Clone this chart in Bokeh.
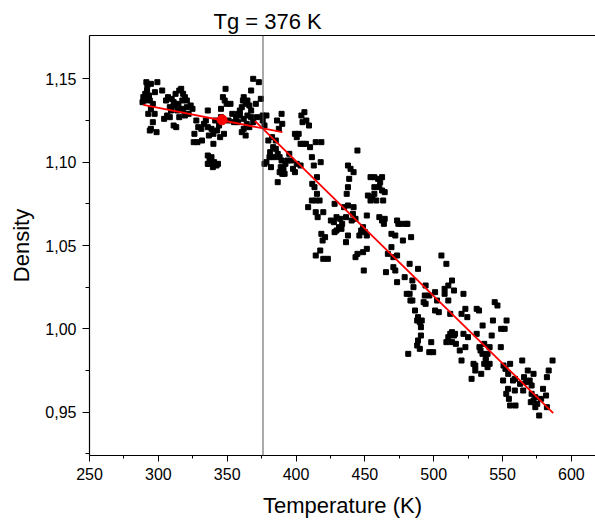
from bokeh.plotting import figure
from bokeh.models import (Range1d, FixedTicker, CustomJSTickFormatter, Span,
                          LinearAxis, Title)
from bokeh.embed import file_html
from bokeh.resources import INLINE

# ---- data ----
temperature = [
    291.3, 294.6, 299.3, 289.1, 290.5, 291.8, 293.2, 289.9, 293.8, 296.0,
    294.6, 292.7, 297.3, 294.6, 298.7, 296.0, 290.0, 288.5, 292.0, 297.5, 293.8,
    302.8, 305.6, 307.0, 309.7, 311.1, 312.5, 315.2, 316.6, 318.0, 319.3,
    320.7, 317.4, 314.6, 308.3, 306.4, 304.2, 308.3, 311.1, 313.0, 315.2,
    318.0, 320.7, 323.5, 324.8, 322.0, 319.3, 316.6, 313.8, 311.9, 309.2,
    327.6, 329.0, 326.2, 325.7, 328.4, 331.7, 331.2, 333.1, 335.9, 334.5,
    335.9, 336.7, 340.0, 340.0, 342.7, 344.1, 345.5, 345.5, 346.9, 348.8,
    349.6, 348.2, 347.7, 344.9, 341.3, 338.6,
    335.9, 337.2, 338.6, 336.7, 340.5, 342.2, 343.3, 339.6, 335.9,
    352.4, 353.7, 351.0, 355.0, 356.5, 357.9, 359.2, 360.6, 361.4, 362.0,
    363.4, 364.7, 366.1, 367.4, 368.9, 373.0, 374.4, 370.8, 367.4, 364.7,
    362.0, 360.6, 363.4, 366.1, 362.0, 364.2, 368.9, 371.7, 375.8, 375.8,
    377.1, 367.4, 359.2, 357.9,
    377.1, 378.5, 380.7, 381.8, 383.4, 385.3, 386.7, 388.1, 389.5, 388.9,
    390.9, 386.7, 388.1, 390.0, 391.7, 392.3, 393.7, 395.1, 396.4, 397.8,
    399.2, 400.5, 386.2, 389.5, 390.0, 387.5, 378.5, 379.9, 382.6, 381.2,
    384.0, 385.3, 399.2, 401.9, 403.3, 400.5, 404.7, 406.1, 403.9, 407.5,
    409.4, 405.3, 407.2, 403.3,
    410.2, 411.5, 412.9, 414.3, 418.4, 417.9, 415.2, 411.8, 413.4, 415.2,
    414.3, 417.1, 408.8, 411.5, 414.3, 415.7, 419.8, 418.4, 421.1, 419.3,
    417.6, 414.3, 419.8, 423.1, 425.3, 427.5, 429.4, 428.0, 431.2, 429.4,
    433.0, 433.5, 432.1, 428.0, 436.3, 434.9, 437.7, 436.8, 437.7, 438.6,
    437.7, 439.6, 436.3, 437.7,
    441.8, 444.6, 441.8, 441.3, 443.2, 440.4, 443.2, 444.6, 446.0, 447.3,
    448.7, 450.1, 451.4, 449.2, 448.7, 451.4, 451.4, 452.2, 454.1, 455.5,
    456.9, 458.3, 456.9, 454.1, 456.9, 459.6, 461.1, 462.5, 460.5, 462.5,
    464.4, 463.3, 460.5, 462.5, 464.4, 463.8, 466.7, 469.3, 465.3, 470.7,
    469.3,
    473.4, 474.3, 476.2, 472.1, 477.6, 479.8, 480.9, 483.6, 473.4, 470.7,
    472.1, 473.4, 478.9, 482.5, 480.4, 482.5, 484.5, 485.3, 483.1, 484.5,
    488.6, 486.4, 488.6, 488.0, 489.9, 491.3, 490.7, 488.6, 488.0, 489.9,
    481.5, 490.7, 492.7, 494.1, 496.8, 498.2, 496.8, 499.6, 494.1, 493.5,
    501.0, 502.4, 501.0, 503.7, 505.6, 509.2, 507.9, 507.9, 510.6, 513.3,
    510.6, 514.7, 512.0, 509.2, 510.6, 512.0, 513.3, 514.7, 513.3, 516.1,
    518.9, 520.2, 515.5, 521.6, 523.0, 524.4, 521.6, 524.9, 523.0, 527.5,
    528.9, 530.2, 530.2, 520.2,
    531.2, 532.9, 531.2, 533.2, 534.0, 535.4, 535.5, 536.7, 534.5, 537.8,
    539.1, 540.6, 542.1, 543.0, 540.6, 539.1, 537.8, 536.7, 544.3, 546.3,
    548.7, 549.0, 551.5, 552.9, 550.7, 552.1, 550.4, 554.1, 555.5, 554.0,
    552.7, 555.5, 558.9, 557.6, 559.0, 554.6, 559.4,
    564.3, 565.6, 567.0, 568.3, 565.0, 562.7, 569.7, 571.1, 572.5, 571.1,
    572.5, 573.8, 575.2, 576.6, 573.8, 578.0, 579.4, 581.6, 582.2, 583.5,
    586.3, 582.2, 570.5,
]
density = [
    1.148, 1.147, 1.148, 1.139, 1.141, 1.143, 1.140, 1.137, 1.137, 1.135,
    1.132, 1.129, 1.129, 1.120, 1.118, 1.124, 1.138, 1.136, 1.146, 1.142, 1.119,
    1.143, 1.137, 1.139, 1.138, 1.136, 1.141, 1.143, 1.144, 1.141, 1.139,
    1.137, 1.137, 1.135, 1.133, 1.128, 1.126, 1.127, 1.122, 1.121, 1.127,
    1.131, 1.133, 1.134, 1.132, 1.129, 1.128, 1.132, 1.131, 1.134, 1.131,
    1.125, 1.121, 1.117, 1.112, 1.112, 1.113, 1.120, 1.123, 1.131, 1.125,
    1.121, 1.116, 1.117, 1.111, 1.119, 1.122, 1.127, 1.132, 1.139, 1.144,
    1.135, 1.137, 1.117, 1.115, 1.125, 1.120,
    1.104, 1.101, 1.103, 1.099, 1.100, 1.098, 1.099, 1.097, 1.099,
    1.135, 1.129, 1.125, 1.124, 1.127, 1.129, 1.131, 1.133, 1.137, 1.139,
    1.135, 1.137, 1.134, 1.143, 1.150, 1.148, 1.138, 1.135, 1.131, 1.128,
    1.126, 1.118, 1.116, 1.121, 1.120, 1.123, 1.124, 1.127, 1.128, 1.125,
    1.122, 1.127, 1.128, 1.124,
    1.099, 1.100, 1.103, 1.097, 1.109, 1.108, 1.105, 1.103, 1.101, 1.097,
    1.096, 1.088, 1.094, 1.093, 1.093, 1.099, 1.101, 1.105, 1.101, 1.096,
    1.094, 1.099, 1.125, 1.129, 1.123, 1.120, 1.128, 1.113, 1.115, 1.106,
    1.103, 1.113, 1.117, 1.117, 1.111, 1.115, 1.124, 1.130, 1.128, 1.125,
    1.122, 1.111, 1.111, 1.098,
    1.109, 1.103, 1.098, 1.112, 1.112, 1.100, 1.091, 1.087, 1.085, 1.081,
    1.077, 1.077, 1.073, 1.077, 1.070, 1.067, 1.070, 1.057, 1.055, 1.053,
    1.047, 1.044, 1.042, 1.042, 1.065, 1.064, 1.067, 1.075, 1.061, 1.059,
    1.060, 1.063, 1.066, 1.058, 1.067, 1.073, 1.074, 1.081, 1.085, 1.090,
    1.098, 1.096, 1.052, 1.056,
    1.094, 1.107, 1.073, 1.069, 1.066, 1.065, 1.043, 1.045, 1.056, 1.059,
    1.061, 1.058, 1.056, 1.035, 1.046, 1.048, 1.068, 1.080, 1.077, 1.079,
    1.081, 1.077, 1.085, 1.091, 1.091, 1.090, 1.088, 1.091, 1.085, 1.083,
    1.082, 1.077, 1.067, 1.065, 1.066, 1.063, 1.045, 1.049, 1.034, 1.043,
    1.057,
    1.065, 1.063, 1.063, 1.056, 1.053, 1.063, 1.063, 1.055, 1.044, 1.037,
    1.035, 1.028, 1.031, 1.039, 1.021, 1.021, 1.029, 1.025, 1.017, 1.017,
    1.036, 1.011, 1.007, 1.005, 1.004, 1.005, 1.001, 0.993, 0.990, 0.988,
    0.985, 0.996, 1.016, 1.026, 1.020, 0.992, 0.986, 0.986, 1.015, 1.020,
    1.022, 1.017, 1.011, 1.010, 1.044, 1.039, 1.024, 1.021, 1.026, 1.029,
    1.017, 1.023, 1.009, 0.992, 0.995, 0.997, 0.998, 0.996, 0.992, 0.991,
    0.987, 0.981, 0.997, 1.021, 1.012, 1.007, 0.997, 0.995, 0.989, 0.970,
    0.979, 0.975, 0.978, 1.009,
    1.012, 1.011, 0.997, 0.989, 0.987, 0.985, 1.002, 0.991, 0.973, 0.983,
    0.985, 0.989, 0.996, 1.005, 0.979, 0.977, 0.981, 0.979, 1.016, 1.014,
    0.989, 1.000, 1.000, 1.005, 0.978, 0.976, 0.969, 0.973, 0.979, 0.964,
    0.961, 0.954, 0.963, 0.969, 0.970, 0.958, 0.954,
    0.981, 0.971, 0.968, 0.975, 0.963, 0.967, 0.969, 0.966, 0.973, 0.961,
    0.957, 0.959, 0.955, 0.948, 0.953, 0.958, 0.964, 0.960, 0.971, 0.975,
    0.981, 0.953, 0.956,
]

# two linear fits (glassy and rubbery branch), end points
fit_glass_x = [289.1, 390.1]
fit_glass_y = [1.1344, 1.1180]
fit_rubber_x = [370.3, 586.8]
fit_rubber_y = [1.1246, 0.9494]
marker_x = [346.3]
marker_y = [1.1254]
tg = 376

x_ticks = [250, 300, 350, 400, 450, 500, 550, 600]
x_minor = [275, 325, 375, 425, 475, 525, 575]
y_ticks = [0.95, 1.00, 1.05, 1.10, 1.15]
y_minor = [0.925, 0.975, 1.025, 1.075, 1.125]

FONT = "Liberation Sans"

p = figure(width=595, height=522, output_backend="svg", toolbar_location=None,
           x_range=Range1d(250, 617.5), y_range=Range1d(0.924, 1.176),
           min_border_left=89, min_border_right=0, min_border_top=35,
           min_border_bottom=67, background_fill_color="white",
           border_fill_color="white", outline_line_color=None)
p.grid.visible = False

xa = p.below[0]
ya = p.left[0]
xa.ticker = FixedTicker(ticks=x_ticks, minor_ticks=x_minor)
xa.axis_label = "Temperature (K)"
ya.ticker = FixedTicker(ticks=y_ticks, minor_ticks=y_minor)
ya.formatter = CustomJSTickFormatter(code="return tick.toFixed(2).replace('.', ',');")
ya.axis_label = "Density"

for ax in (xa, ya):
    ax.axis_line_color = "black"
    ax.axis_line_width = 1.2
    ax.major_tick_line_color = "black"
    ax.minor_tick_line_color = "black"
    ax.major_tick_in = 0
    ax.minor_tick_in = 0
    ax.major_tick_out = 6
    ax.minor_tick_out = 3
    ax.major_label_text_font = FONT
    ax.major_label_text_font_size = "16px"
    ax.major_label_text_color = "black"
    ax.axis_label_text_font = FONT
    ax.axis_label_text_font_size = "22px"
    ax.axis_label_text_font_style = "normal"
    ax.axis_label_text_color = "black"
ya.major_tick_out = 7
ya.minor_tick_out = 4
ya.major_label_standoff = 6
xa.major_label_standoff = 6
ya.axis_label_standoff = 8
xa.axis_label_standoff = 10

# top frame line (first item above = closest to the frame)
top_axis = LinearAxis(ticker=FixedTicker(ticks=[]), major_label_text_font_size="0px",
                      major_tick_out=0, minor_tick_out=0, major_tick_in=0,
                      minor_tick_in=0, major_label_standoff=0,
                      axis_line_color="black", axis_line_width=1)
p.add_layout(top_axis, "above")

title = Title(text="Tg = %d K" % tg, align="left", offset=124,
              text_font=FONT, text_font_size="22px", text_font_style="normal",
              text_color="black", standoff=4)
p.add_layout(title, "above")

p.add_layout(Span(location=tg, dimension="height", line_color="#555555", line_width=1))

p.scatter(temperature, density, marker="square", size=5, color="black")
p.line(fit_glass_x, fit_glass_y, line_color="red", line_width=1.8)
p.line(fit_rubber_x, fit_rubber_y, line_color="red", line_width=1.8)
p.scatter(marker_x, marker_y, marker="circle", size=10, color="red")

open("out.html", "w").write(file_html(p, INLINE))
